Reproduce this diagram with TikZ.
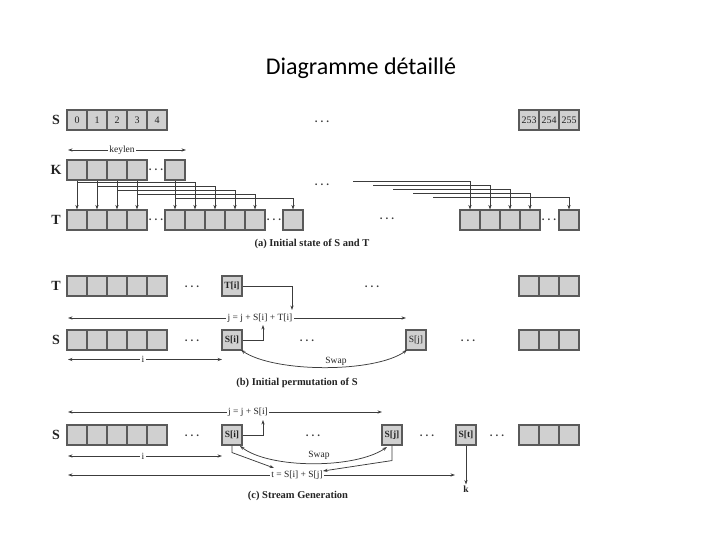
\documentclass[tikz,border=0pt]{standalone}
\usepackage{fontspec}
\setmainfont{Liberation Serif}
\newfontfamily\titlefont{Carlito}
\usetikzlibrary{arrows.meta}
\definecolor{cellfill}{RGB}{208,208,208}
\definecolor{cellline}{RGB}{90,90,90}
\definecolor{ink}{RGB}{60,60,60}
\definecolor{txt}{RGB}{35,35,35}
\newcommand\mydots{.\kern3pt.\kern3pt.}
\begin{document}
\begin{tikzpicture}[x=1pt,y=-1pt,
 cell/.style={draw=cellline,fill=cellfill,line width=1.1pt,minimum width=20pt,minimum height=20pt,inner sep=0pt,font=\fontsize{10}{10}\selectfont,text=txt},
 rowlbl/.style={font=\fontsize{14}{14}\selectfont\bfseries,text=txt},
 dotsn/.style={font=\fontsize{11}{11}\selectfont\bfseries,text=ink,inner sep=0pt},
 arr/.style={draw=ink,line width=0.75pt,-{Stealth[length=4.5pt,width=3.2pt]}},
 darr/.style={draw=ink,line width=0.75pt,{Stealth[length=4.5pt,width=3.2pt]}-{Stealth[length=4.5pt,width=3.2pt]}},
 exprlbl/.style={font=\fontsize{9.5}{10}\selectfont,text=txt,fill=white,inner sep=1.5pt},
 plainlbl/.style={font=\fontsize{9.5}{10}\selectfont,text=txt,inner sep=1pt},
 capt/.style={font=\fontsize{10.5}{11}\selectfont\bfseries,text=txt},
]
\useasboundingbox (0,0) rectangle (720,540);
\node[font=\titlefont\fontsize{24}{26}\selectfont] (title) at (361,68) {Diagramme détaillé};

% ---------- (a) ----------
\node[rowlbl] (lSa) at (56,120) {S};
\foreach \i/\x in {0/77,1/97,2/117,3/137,4/157} \node[cell] (sa\i) at (\x,120) {\i};
\node[dotsn] (da1) at (322,122) {\mydots};
\node[cell] (sa253) at (529,120) {253};
\node[cell] (sa254) at (549,120) {254};
\node[cell] (sa255) at (569,120) {255};

\coordinate (klA) at (68,150);
\coordinate (klB) at (186,150);
\draw[darr] (klA) -- (klB);
\node[exprlbl] (keylen) at (122,150) {keylen};

\node[rowlbl] (lK) at (56,170) {K};
\foreach \i/\x in {0/77,1/97,2/117,3/137} \node[cell] (k\i) at (\x,170) {};
\node[dotsn] (dk) at (156,170) {\mydots};
\node[cell] (kL) at (175,170) {};

\node[dotsn] (da2) at (322,185) {\mydots};

\node[rowlbl] (lTa) at (56,220) {T};
\foreach \i/\x in {0/77,1/97,2/117,3/137} \node[cell] (t\i) at (\x,220) {};
\node[dotsn] (dt1) at (156,220) {\mydots};
\foreach \i/\x in {4/175,5/195,6/215,7/235,8/255} \node[cell] (t\i) at (\x,220) {};
\node[dotsn] (dt2) at (274,220) {\mydots};
\node[cell] (t9) at (293,220) {};
\node[dotsn] (dt3) at (387,219) {\mydots};
\foreach \i/\x in {10/470,11/490,12/510,13/530} \node[cell] (t\i) at (\x,220) {};
\node[dotsn] (dt4) at (549,220) {\mydots};
\node[cell] (t14) at (569,220) {};

% K -> T arrows
\draw[arr] (k0.south) -- (t0.north);
\draw[arr] (k1.south) -- (t1.north);
\draw[arr] (k2.south) -- (t2.north);
\draw[arr] (k3.south) -- (t3.north);
\draw[arr] (kL.south) -- (t4.north);
\draw[arr] ([yshift=-1.5pt]k0.south) -| (t5.north);
\draw[arr] ([yshift=-5.5pt]k1.south) -| (t6.north);
\draw[arr] ([yshift=-9.5pt]k2.south) -| (t7.north);
\draw[arr] ([yshift=-13.5pt]k3.south) -| (t8.north);
\draw[arr] ([yshift=-17.5pt]kL.south) -| (t9.north);
\coordinate (r1) at (353,181);
\coordinate (r2) at (373,185);
\coordinate (r3) at (393,189);
\coordinate (r4) at (413,193);
\coordinate (r5) at (433,197);
\draw[arr] (r1) -| (t10.north);
\draw[arr] (r2) -| (t11.north);
\draw[arr] (r3) -| (t12.north);
\draw[arr] (r4) -| (t13.north);
\draw[arr] (r5) -| (t14.north);

\node[capt] (capa) at (312,244) {(a) Initial state of S and T};

% ---------- (b) ----------
\node[rowlbl] (lTb) at (56,286) {T};
\foreach \i/\x in {0/77,1/97,2/117,3/137,4/157} \node[cell] (tb\i) at (\x,286) {};
\node[dotsn] (db1) at (192,287) {\mydots};
\node[cell,font=\fontsize{9.5}{10}\selectfont\bfseries] (ti) at (232,286) {T[i]};
\node[dotsn] (db2) at (372,287) {\mydots};
\foreach \i/\x in {0/529,1/549,2/569} \node[cell] (tbr\i) at (\x,286) {};

\coordinate (jbL) at (68,318);
\coordinate (jbR) at (406,318);
\draw[darr] (jbL) -- (jbR);
\node[exprlbl] (jb) at (260,318) {j = j + S[i] + T[i]};
\coordinate (jbT) at (292,310);
\coordinate (jbS) at (263,325);

\node[rowlbl] (lSb) at (56,340) {S};
\foreach \i/\x in {0/77,1/97,2/117,3/137,4/157} \node[cell] (sb\i) at (\x,340) {};
\node[dotsn] (db3) at (192,341) {\mydots};
\node[cell,font=\fontsize{9.5}{10}\selectfont\bfseries] (sib) at (232,340) {S[i]};
\node[dotsn] (db4) at (307,341) {\mydots};
\node[cell,font=\fontsize{9.5}{10}\selectfont] (sjb) at (416,340) {S[j]};
\node[dotsn] (db5) at (468,341) {\mydots};
\foreach \i/\x in {0/529,1/549,2/569} \node[cell] (sbr\i) at (\x,340) {};

\draw[arr] (ti.east) -| (jbT);
\draw[arr] (sib.east) -| (jbS);

\coordinate (ibL) at (68,359.5);
\coordinate (ibR) at (222,359.5);
\draw[darr] (ibL) -- (ibR);
\node[exprlbl] (ib) at (143,359.5) {i};

\coordinate (swb1) at (241,350);
\coordinate (swb2) at (407,350);
\draw[darr] (swb1) .. controls (275,373) and (375,373) .. (swb2);
\node[plainlbl] (swapb) at (336,361) {Swap};

\node[capt] (capb) at (297,383) {(b) Initial permutation of S};

% ---------- (c) ----------
\coordinate (jcL) at (68,412);
\coordinate (jcR) at (382,412);
\draw[darr] (jcL) -- (jcR);
\node[exprlbl] (jc) at (248,412) {j = j + S[i]};
\coordinate (jcS) at (263,420);

\node[rowlbl] (lSc) at (56,435) {S};
\foreach \i/\x in {0/77,1/97,2/117,3/137,4/157} \node[cell] (sc\i) at (\x,435) {};
\node[dotsn] (dc1) at (192,436) {\mydots};
\node[cell,font=\fontsize{9.5}{10}\selectfont\bfseries] (sic) at (232,435) {S[i]};
\node[dotsn] (dc2) at (313,436) {\mydots};
\node[cell,font=\fontsize{9.5}{10}\selectfont\bfseries] (sjc) at (392,435) {S[j]};
\node[dotsn] (dc3) at (427,436) {\mydots};
\node[cell,font=\fontsize{9.5}{10}\selectfont\bfseries] (stc) at (466,435) {S[t]};
\node[dotsn] (dc4) at (497,436) {\mydots};
\foreach \i/\x in {0/529,1/549,2/569} \node[cell] (scr\i) at (\x,435) {};

\draw[arr] (sic.east) -| (jcS);

\coordinate (icL) at (68,456);
\coordinate (icR) at (222,456);
\draw[darr] (icL) -- (icR);
\node[exprlbl] (ic) at (143,456) {i};

\coordinate (swc1) at (240,446);
\coordinate (swc2) at (387,447);
\draw[darr] (swc1) .. controls (270,469) and (355,469) .. (swc2);
\node[plainlbl] (swapc) at (319,455) {Swap};

\coordinate (tcL) at (68,475);
\coordinate (tcR) at (455,475);
\draw[darr] (tcL) -- (tcR);
\node[exprlbl] (tc) at (297,475) {t = S[i] + S[j]};

\coordinate (tin1) at (274,468);
\coordinate (tin2) at (323,471);
\draw[arr] (sic.south) -- ++(0,7) -- (tin1);
\draw[arr] (sjc.south) -- ++(0,15) -- (tin2);

\node[plainlbl,font=\fontsize{9.5}{10}\selectfont\bfseries] (kout) at (466,489) {k};
\draw[arr] (stc.south) -- (kout.north);

\node[capt] (capc) at (298,496) {(c) Stream Generation};
\end{tikzpicture}
\end{document}
